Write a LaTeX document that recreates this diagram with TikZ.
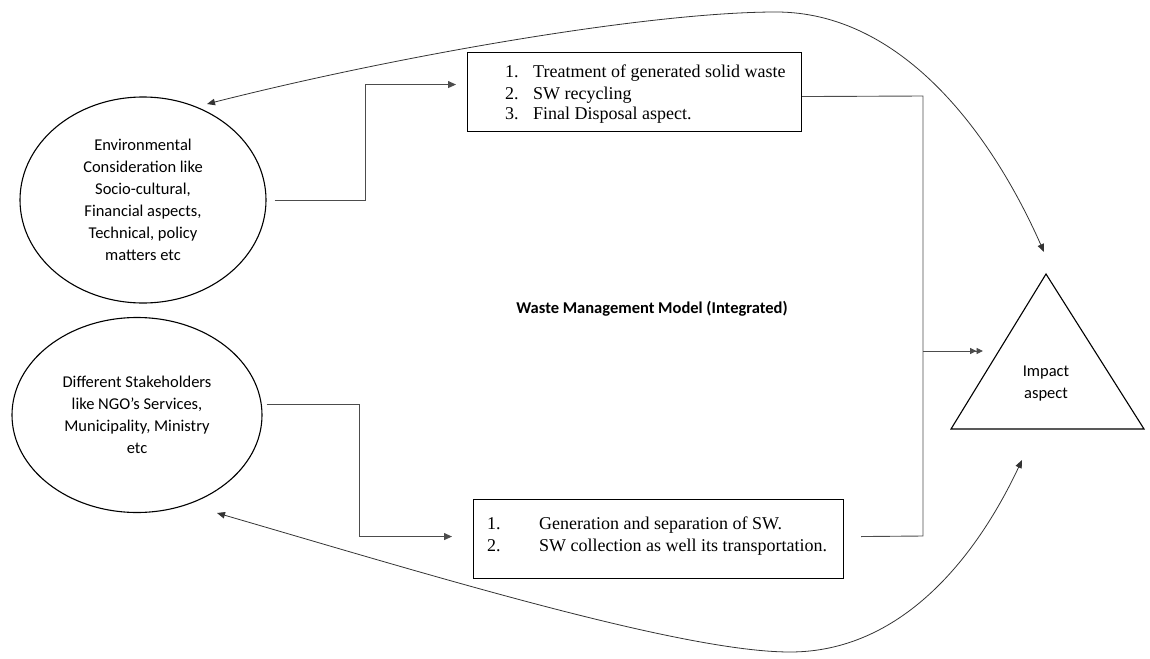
\documentclass[tikz,border=0pt]{standalone}
\usepackage{fontspec}
\setmainfont{Carlito}
\newfontfamily\tnr{Liberation Serif}
\usetikzlibrary{arrows.meta,shapes.geometric}
\begin{document}
\begin{tikzpicture}[x=1pt,y=-1pt,
  ell/.style={draw, ellipse, line width=1.1pt, inner sep=0pt, align=center, font=\fontsize{16.5}{22}\selectfont},
  box/.style={draw, rectangle, line width=1.1pt, anchor=north west, inner sep=0pt},
  boxtext/.style={anchor=base west, inner sep=0pt},
  conn/.style={draw=black!70, line width=0.9pt},
  tip/.style={-{Triangle[length=8pt,width=7pt]}},
  dtip/.style={-{Triangle[length=6.5pt,width=6pt]Triangle[length=6.5pt,width=6pt]}},
  curve/.style={draw=black!80, line width=0.8pt, {Triangle[length=8pt,width=6.5pt]}-{Triangle[length=8pt,width=6.5pt]}},
  lbl/.style={align=center, inner sep=0pt, font=\fontsize{16.5}{22}\selectfont}
]
\useasboundingbox (0,0) rectangle (1150,658);

% ellipses
\node[ell, minimum width=246pt, minimum height=206pt] (e1) at (143,200)
  {Environmental\\Consideration like\\Socio-cultural,\\Financial aspects,\\Technical, policy\\matters etc};
\node[ell, minimum width=250pt, minimum height=195pt] (e2) at (137,415)
  {Different Stakeholders\\like NGO’s Services,\\Municipality, Ministry\\etc};

% boxes
\node[box, minimum width=334pt, minimum height=79pt] (b1) at (467,52) {};
\node[boxtext, font=\tnr\fontsize{18}{21}\selectfont] (b1t) at (505,78)
  {\begin{tabular}[t]{@{}l@{\hspace{14.5pt}}l@{}}1.&Treatment of generated solid waste\\2.&SW recycling\\3.&Final Disposal aspect.\end{tabular}};
\node[box, minimum width=370pt, minimum height=79pt] (b2) at (473,499) {};
\node[boxtext, font=\tnr\fontsize{18}{22}\selectfont] (b2t) at (487,529)
  {\begin{tabular}[t]{@{}l@{\hspace{38.5pt}}l@{}}1.&Generation and separation of SW.\\2.&SW collection as well its transportation.\end{tabular}};

% title
\node[font=\bfseries\fontsize{16.5}{20}\selectfont] (title) at (652,309) {Waste Management Model (Integrated)};

% triangle
\coordinate (tA) at (1046,274);
\coordinate (tL) at (951,429);
\coordinate (tR) at (1144,429);
\draw[line width=1.1pt, line join=miter] (tA) -- (tL) -- (tR) -- cycle;
\node[lbl] (imp) at (1046,384) {Impact\\aspect};

% orthogonal connectors
\draw[conn, tip] ([xshift=8pt]e1.east) -- (365,200) |- ([xshift=-11pt,yshift=7.5pt]b1.west);
\draw[conn, tip] ([xshift=4pt,yshift=11pt]e2.east) -- (359,404) |- ([xshift=-21pt,yshift=2.5pt]b2.west);

\coordinate (jt) at (923,96);
\coordinate (jm) at (923,351);
\coordinate (jb) at (923,536);
\coordinate (ta) at (983,351);
\draw[conn] ([yshift=-4.5pt]b1.east) -- (jt) -- (jb) -- ([xshift=17pt,yshift=2.5pt]b2.east);
\draw[conn, dtip] (jm) -- (ta);

% curved connectors
\coordinate (c1) at (207,104);
\coordinate (c2) at (1044,252);
\draw[curve] (c1) .. controls (400,55) and (650,12) .. (776,12) .. controls (900,12) and (990,130) .. (c2);
\coordinate (d1) at (217,513);
\coordinate (d2) at (1022,460);
\draw[curve] (d1) .. controls (420,572) and (680,652) .. (790,652) .. controls (900,652) and (975,560) .. (d2);
\end{tikzpicture}
\end{document}
